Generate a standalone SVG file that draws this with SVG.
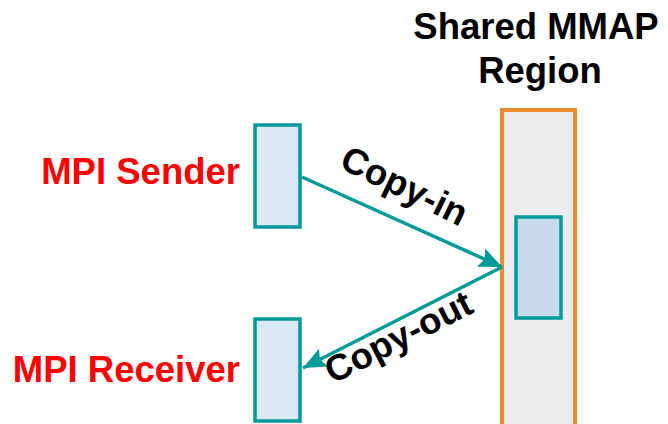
<svg xmlns="http://www.w3.org/2000/svg" width="668" height="424" viewBox="0 0 668 424">
<style>
.lbl{font-family:"Liberation Sans",Arial,sans-serif;font-weight:bold;font-size:36.5px}
.red{fill:#FF0000}
.blk{fill:#000000}
.box{fill:#D9E8F4;stroke:#009A98;stroke-width:3.5}
.inner{fill:#C6D9EA;stroke:#009A98;stroke-width:3.5}
.region{fill:#EDEDF0;stroke:#ED8B2F;stroke-width:4}
.conn{stroke:#009A98;stroke-width:3.5;fill:none}
</style>
<defs>
<marker id="arr" markerUnits="userSpaceOnUse" markerWidth="26" markerHeight="22" refX="23" refY="10" orient="auto">
<path d="M0,0 L23,10 L0,20 L4,10 Z" fill="#009A98"/>
</marker>
</defs>
<rect width="668" height="424" fill="#FFFFFF"/>
<g id="region">
<rect class="region" x="502" y="110" width="73" height="330"/>
<text class="lbl blk" x="536" y="39" text-anchor="middle">Shared MMAP</text>
<text class="lbl blk" x="540" y="83" text-anchor="middle">Region</text>
</g>
<g id="buffer">
<rect class="inner" x="516" y="217" width="45" height="101"/>
</g>
<g id="sender">
<rect class="box" x="255" y="125" width="45" height="102"/>
<text class="lbl red" x="240" y="184" text-anchor="end">MPI Sender</text>
</g>
<g id="receiver">
<rect class="box" x="255" y="319" width="45" height="102"/>
<text class="lbl red" x="240" y="382" text-anchor="end">MPI Receiver</text>
</g>
<g id="connectors">
<line class="conn" x1="302" y1="177" x2="502" y2="267" marker-end="url(#arr)"/>
<line class="conn" x1="502" y1="267" x2="303" y2="368" marker-end="url(#arr)"/>
<text class="lbl blk" transform="translate(399,197) rotate(26)" text-anchor="middle">Copy-in</text>
<text class="lbl blk" transform="translate(404,348) rotate(-27)" text-anchor="middle">Copy-out</text>
</g>
</svg>
